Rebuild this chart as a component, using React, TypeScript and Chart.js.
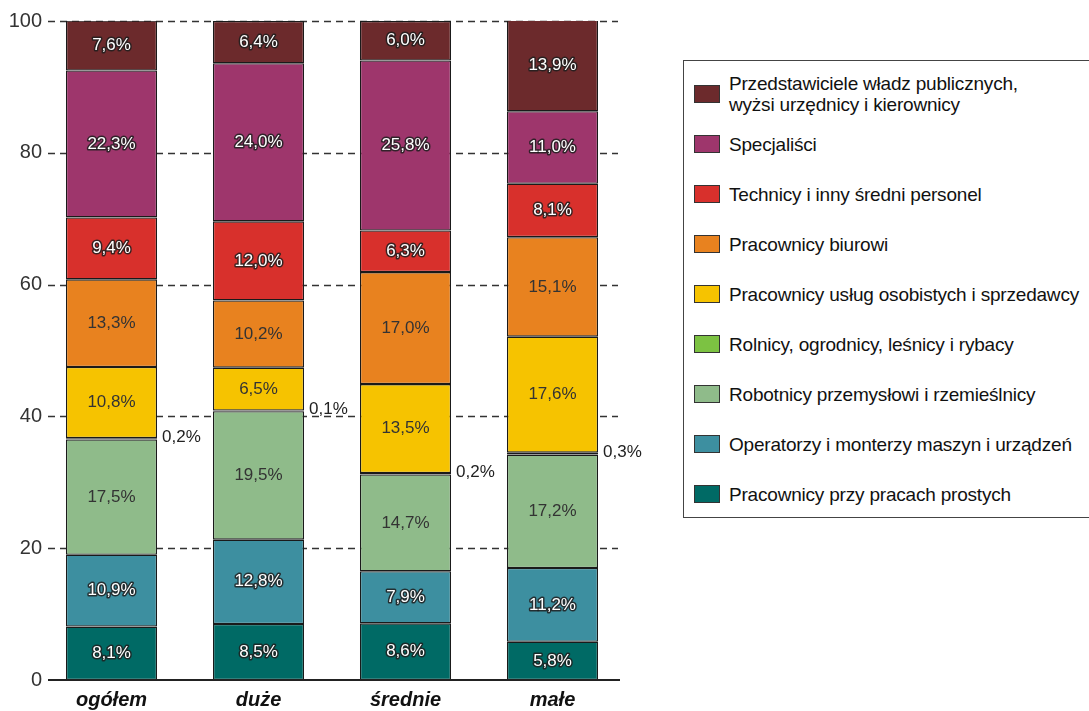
import React, { useEffect, useRef } from "react";
import { Chart, registerables } from "chart.js";

Chart.register(...registerables);

const categories = ["ogółem", "duże", "średnie", "małe"];

const seriesNames = [
  "Pracownicy przy pracach prostych",
  "Operatorzy i monterzy maszyn i urządzeń",
  "Robotnicy przemysłowi i rzemieślnicy",
  "Rolnicy, ogrodnicy, leśnicy i rybacy",
  "Pracownicy usług osobistych i sprzedawcy",
  "Pracownicy biurowi",
  "Technicy i inny średni personel",
  "Specjaliści",
  "Przedstawiciele władz publicznych,\nwyżsi urzędnicy i kierownicy",
];

const prostych = [8.1, 8.5, 8.6, 5.8];
const operatorzy = [10.9, 12.8, 7.9, 11.2];
const robotnicy = [17.5, 19.5, 14.7, 17.2];
const rolnicy = [0.2, 0.1, 0.2, 0.3];
const uslugi = [10.8, 6.5, 13.5, 17.6];
const biurowi = [13.3, 10.2, 17.0, 15.1];
const technicy = [9.4, 12.0, 6.3, 8.1];
const specjalisci = [22.3, 24.0, 25.8, 11.0];
const kierownicy = [7.6, 6.4, 6.0, 13.9];

const seriesValues = [prostych, operatorzy, robotnicy, rolnicy, uslugi, biurowi, technicy, specjalisci, kierownicy];

const seriesColors = ["#006a65", "#3d8fa0", "#8fbb8a", "#7cc242", "#f6c300", "#e8821f", "#d8302c", "#9e366c", "#6c2a2c"];
const whiteLabel = [true, true, false, false, false, false, true, true, true];

const yTicks = [0, 20, 40, 60, 80, 100];

const FONT = "'Liberation Sans', Arial, sans-serif";

const fmt = (v: number) => v.toFixed(1).replace(".", ",") + "%";

export default function App() {
  const ref = useRef<HTMLCanvasElement | null>(null);

  useEffect(() => {
    document.body.style.margin = "0";
    const canvas = ref.current;
    if (!canvas) return;

    const gridPlugin = {
      id: "dashedGrid",
      beforeDatasetsDraw(chart: any) {
        const { ctx, chartArea } = chart;
        const y = chart.scales.y;
        ctx.save();
        ctx.strokeStyle = "#333";
        ctx.lineWidth = 1.3;
        ctx.setLineDash([7, 5]);
        yTicks.forEach((t) => {
          if (t === 0) return;
          const py = Math.round(y.getPixelForValue(t)) + 0.5;
          ctx.beginPath();
          ctx.moveTo(chartArea.left + 10, py);
          ctx.lineTo(chartArea.right - 8, py);
          ctx.stroke();
        });
        ctx.setLineDash([]);
        ctx.fillStyle = "#333";
        ctx.font = `20px ${FONT}`;
        ctx.textAlign = "right";
        ctx.textBaseline = "middle";
        yTicks.forEach((t) => {
          ctx.fillText(String(t), chartArea.left + 4, y.getPixelForValue(t));
        });
        ctx.restore();
      },
      afterDatasetsDraw(chart: any) {
        const { ctx, chartArea } = chart;
        const y = chart.scales.y;
        ctx.save();
        ctx.strokeStyle = "#222";
        ctx.lineWidth = 2;
        const py = y.getPixelForValue(0);
        ctx.beginPath();
        ctx.moveTo(chartArea.left + 10, py);
        ctx.lineTo(chartArea.right - 6, py);
        ctx.stroke();

        ctx.textBaseline = "middle";
        chart.data.datasets.forEach((ds: any, di: number) => {
          const meta = chart.getDatasetMeta(di);
          meta.data.forEach((el: any, i: number) => {
            const v = ds.data[i];
            const txt = fmt(v);
            const cy = (el.y + el.base) / 2;
            if (di === 3) {
              ctx.font = `17px ${FONT}`;
              ctx.textAlign = "left";
              ctx.fillStyle = "#222";
              ctx.fillText(txt, el.x + el.width / 2 + 5, cy - 1);
              return;
            }
            ctx.textAlign = "center";
            ctx.font = `17px ${FONT}`;
            if (whiteLabel[di]) {
              ctx.lineJoin = "round";
              ctx.lineWidth = 3;
              ctx.strokeStyle = "rgba(30,30,30,0.85)";
              ctx.strokeText(txt, el.x, cy);
              ctx.fillStyle = "#fff";
              ctx.fillText(txt, el.x, cy);
            } else {
              ctx.fillStyle = "#333";
              ctx.fillText(txt, el.x, cy);
            }
          });
        });
        ctx.restore();
      },
    };

    const chart = new Chart(canvas, {
      type: "bar",
      data: {
        labels: categories,
        datasets: seriesValues.map((vals, i) => ({
          label: seriesNames[i],
          data: vals,
          backgroundColor: seriesColors[i],
          borderColor: "#1a1a1a",
          borderWidth: 1.3,
          borderSkipped: false,
          barPercentage: 0.62,
          categoryPercentage: 1,
        })),
      },
      options: {
        animation: false,
        responsive: false,
        maintainAspectRatio: false,
        layout: { padding: { top: 21, right: 54, left: 0, bottom: 0 } },
        plugins: { legend: { display: false }, tooltip: { enabled: false } },
        scales: {
          x: {
            stacked: true,
            grid: { display: false, drawTicks: false },
            border: { display: false },
            ticks: {
              padding: 8,
              color: "#111",
              font: { family: FONT, size: 20, weight: "bold", style: "italic" },
            },
            afterFit(scale: any) {
              scale.height = 31;
            },
          },
          y: {
            stacked: true,
            min: 0,
            max: 100,
            afterBuildTicks(scale: any) {
              scale.ticks = yTicks.map((v) => ({ value: v }));
            },
            grid: { display: false, drawTicks: false },
            border: { display: false },
            ticks: { display: false },
            afterFit(scale: any) {
              scale.width = 38;
            },
          },
        },
      },
      plugins: [gridPlugin],
    });

    return () => chart.destroy();
  }, []);

  const legendOrder = seriesNames.map((_, i) => seriesNames.length - 1 - i);

  return (
    <div style={{ position: "relative", width: 1089, height: 711, overflow: "hidden", background: "#fff", fontFamily: FONT }}>
      <canvas ref={ref} width={680} height={711} style={{ position: "absolute", left: 0, top: 0, width: 680, height: 711 }} />
      <div
        style={{
          position: "absolute",
          left: 683,
          top: 60,
          width: 420,
          height: 458,
          border: "1.5px solid #444",
          boxSizing: "border-box",
        }}
      />
      {legendOrder.map((si, row) => {
        const center = 94 + row * 50;
        return (
          <div
            key={si}
            style={{
              position: "absolute",
              left: 694,
              top: center - 25,
              height: 50,
              display: "flex",
              alignItems: "center",
              whiteSpace: "pre",
            }}
          >
            <div
              style={{
                width: 26,
                height: 18,
                background: seriesColors[si],
                border: "1px solid #333",
                boxSizing: "border-box",
                flex: "none",
              }}
            />
            <div style={{ marginLeft: 9, fontSize: 19, lineHeight: "21px", color: "#111", letterSpacing: -0.2 }}>
              {seriesNames[si]}
            </div>
          </div>
        );
      })}
    </div>
  );
}
